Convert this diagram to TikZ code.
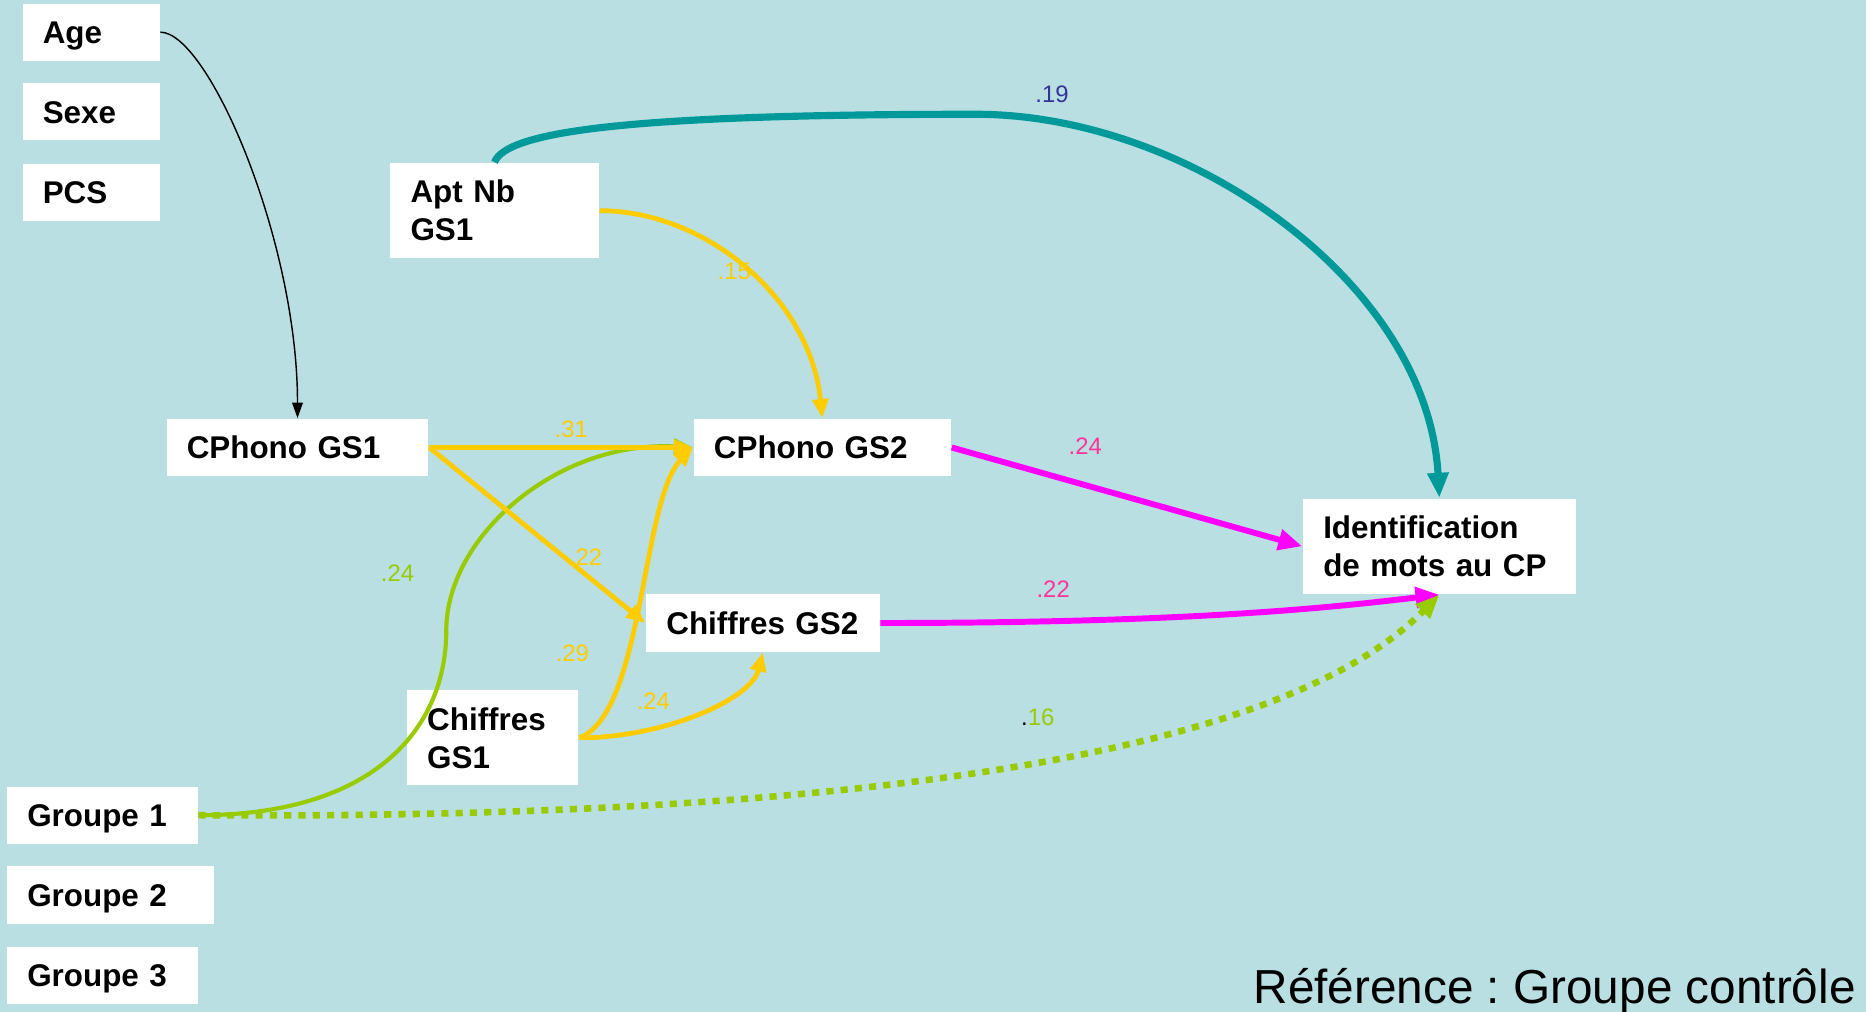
\documentclass[tikz,border=0pt]{standalone}
\usepackage{fontspec}
\setmainfont{Liberation Sans}
\usetikzlibrary{arrows.meta}
\definecolor{fond}{RGB}{185,223,227}
\definecolor{jaune}{RGB}{255,204,0}
\definecolor{vert}{RGB}{153,204,0}
\definecolor{canard}{RGB}{0,153,153}
\definecolor{fuchsia}{RGB}{255,0,255}
\definecolor{rose}{RGB}{255,51,153}
\definecolor{bleu}{RGB}{51,51,153}

\begin{document}
\begin{tikzpicture}[x=0.01cm,y=-0.01cm,
  var/.style={fill=white,inner xsep=0.17cm,inner ysep=0pt,minimum height=0.48cm,text width=#1,align=left,text height=5.4pt,text depth=0pt,font=\fontsize{7.5}{9.1}\selectfont\bfseries},
  var2/.style={var=#1,text height={},text depth={},minimum height=0.80cm},
  coef/.style={inner sep=0pt,font=\fontsize{5.7}{6}\selectfont},
  noir/.style={line width=0.012cm,-{Triangle[length=0.13cm,width=0.09cm]}},
  jlien/.style={jaune,line width=0.04cm,-{Triangle[length=0.16cm,width=0.13cm]}},
  vlien/.style={vert,line width=0.035cm,-{Triangle[length=0.16cm,width=0.13cm]}},
  vpoint/.style={vert,line width=0.055cm,dash pattern=on 0.06cm off 0.06cm,-{Triangle[length=0.2cm,width=0.16cm]}},
  mlien/.style={fuchsia,line width=0.05cm,-{Triangle[length=0.2cm,width=0.17cm]}},
  clien/.style={canard,line width=0.06cm,-{Triangle[length=0.21cm,width=0.17cm]}}]
\fill[fond] (0,0) rectangle (1568,850);
\useasboundingbox (0,0) rectangle (1568,850);
\node[var=0.81cm] (age) at (76.5,27) {Age};
\node[var=0.81cm] (sexe) at (76.5,94) {Sexe};
\node[var=0.81cm] (pcs) at (76.5,161.5) {PCS};
\node[var2=1.41cm] (apt) at (415.5,177) {Apt Nb\\GS1};
\node[var=1.86cm] (cp1) at (250,376) {CPhono GS1};
\node[var=1.82cm] (cp2) at (691,376) {CPhono GS2};
\node[var2=1.95cm] (ident) at (1209.5,459) {Identification\\de mots au CP};
\node[var=1.62cm] (ch2) at (641,523.5) {Chiffres GS2};
\node[var2=1.10cm] (ch1) at (414,620) {Chiffres\\GS1};
\node[var=1.26cm] (g1) at (86,685) {Groupe 1};
\node[var=1.40cm] (g2) at (93,752) {Groupe 2};
\node[var=1.26cm] (g3) at (86,819.5) {Groupe 3};
\node[anchor=base east,inner sep=0pt,font=\fontsize{11.4}{13}\selectfont\frenchspacing] (ref) at (1560,843) {Référence : Groupe contrôle};
\node[coef,jaune] (c15) at (617,228) {.15};
\node[coef,bleu] (c19) at (884,79) {.19};
\node[coef,jaune] (c31) at (480,361) {.31};
\node[coef,jaune] (c22j) at (492,468) {.22};
\node[coef,jaune] (c29) at (481,549) {.29};
\node[coef,jaune] (c24j) at (549,589) {.24};
\node[coef,vert] (c24v) at (334,482) {.24};
\node[coef,rose] (c24m) at (912,375) {.24};
\node[coef,rose] (c22m) at (885,495) {.22};
\node[coef,vert] (c16) at (872,603) {{\color{black}.}16};
\coordinate (sommet) at (820,96);
\coordinate (pli) at (375,530);
\draw[noir] (age.east) .. controls +(40,0) and +(0,-150) .. (cp1.north);
\draw[jlien] (apt.east) .. controls +(90,0) and +(-10,-100) .. (cp2.north);
\draw[clien] (apt.north) .. controls +(10,-25) and +(-300,0) .. (sommet) .. controls +(180,0) and +(-10,-180) .. (ident.north);
\draw[vlien] (g1.east) .. controls +(150,0) and +(0,80) .. (pli) .. controls +(0,-80) and +(-113,-6) .. (cp2.west);
\draw[jlien] (cp1.east) -- (cp2.west);
\draw[jlien] (cp1.east) -- (ch2.west);
\draw[jlien] (ch1.east) .. controls +(54,-20) and +(-43,44) .. (cp2.west);
\draw[jlien] (ch1.east) .. controls +(70,0) and +(-10,40) .. (ch2.south);
\draw[mlien] (cp2.east) -- (ident.west);
\draw[mlien] (ch2.east) .. controls +(250,0) and +(-100,12) .. (ident.south);
\draw[vpoint] (g1.east) .. controls +(734,5) and +(-90,91) .. (ident.south);
\end{tikzpicture}
\end{document}
